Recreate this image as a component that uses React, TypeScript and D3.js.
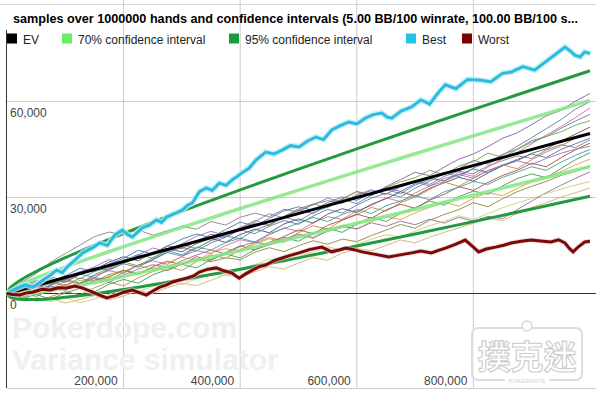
import React from 'react';
import * as d3 from 'd3';

const WIDTH = 600;
const HEIGHT = 394;

const titleText =
  'samples over 1000000 hands and confidence intervals (5.00 BB/100 winrate, 100.00 BB/100 s...';

// sample runs, one value every 25,000 hands, in thousands of BB
const sampleStep = 25000;
const samplesK: number[][] = [
  [0, 1.8, 3.5, 2.9, 5.1, 6.8, 8.0, 7.2, 9.5, 11.8, 12.5, 14.9, 14.0, 16.3, 18.5, 17.6, 20.2, 22.0, 21.3, 23.9, 26.1, 25.0, 27.8, 29.5, 31.9, 30.8, 33.4, 35.6, 37.9, 36.8, 39.5, 42.0, 43.6, 45.9, 48.5, 50.2, 52.8, 55.5, 57.2, 60.1, 62.5],
  [0, 3.5, 6.2, 9.8, 12.5, 15.1, 17.8, 19.2, 18.5, 19.9, 18.2, 19.6, 21.0, 20.1, 22.5, 21.4, 23.8, 25.1, 24.0, 26.3, 25.5, 27.9, 29.0, 28.2, 30.6, 32.1, 31.0, 33.5, 35.2, 34.1, 36.6, 38.2, 37.4, 39.9, 41.5, 43.0, 42.2, 44.8, 46.5, 45.6, 48.0],
  [0, 0.8, 2.4, 1.5, 3.9, 3.0, 5.6, 7.1, 6.3, 8.8, 10.2, 9.1, 11.6, 13.4, 12.5, 15.0, 16.8, 15.9, 18.3, 20.5, 19.4, 22.1, 24.0, 23.2, 25.8, 27.5, 29.9, 28.7, 31.4, 33.6, 35.0, 37.8, 36.6, 39.5, 42.1, 44.0, 46.8, 49.5, 52.1, 55.0, 58.0],
  [0, -1.2, 0.5, 2.1, 1.0, 3.3, 5.0, 4.1, 6.6, 8.9, 10.5, 12.8, 11.7, 14.2, 16.5, 18.0, 17.1, 19.8, 21.5, 23.9, 22.6, 25.3, 27.0, 29.4, 28.1, 30.7, 32.5, 31.2, 33.9, 35.6, 37.8, 36.5, 39.2, 41.0, 43.5, 45.1, 47.8, 49.0, 51.6, 53.9, 56.0],
  [0, 1.5, 0.6, 2.8, 4.5, 3.2, 5.9, 7.8, 9.9, 8.6, 11.2, 13.5, 15.3, 14.0, 16.7, 18.9, 20.2, 22.8, 21.5, 24.1, 26.4, 28.0, 26.9, 29.6, 31.8, 30.5, 33.1, 34.9, 36.2, 38.5, 37.1, 39.8, 41.2, 43.9, 42.5, 45.0, 47.3, 49.1, 50.5, 52.6, 54.0],
  [0, 0.9, 2.7, 4.6, 3.5, 6.0, 7.4, 9.8, 11.5, 10.2, 12.9, 14.1, 13.0, 15.6, 17.2, 16.0, 18.4, 20.1, 19.0, 21.7, 23.3, 22.0, 24.8, 26.5, 25.3, 27.9, 29.6, 31.8, 30.4, 32.9, 34.6, 36.3, 35.1, 37.7, 39.9, 41.5, 43.8, 45.2, 47.6, 49.8, 52.0],
  [0, -0.8, -2.1, -1.0, 0.6, -0.4, 1.8, 3.5, 2.4, 4.9, 6.8, 8.5, 7.2, 9.9, 12.1, 11.0, 13.6, 15.8, 17.5, 16.3, 19.0, 21.2, 20.1, 22.9, 24.6, 26.9, 25.7, 28.4, 30.1, 32.5, 34.8, 33.5, 36.1, 38.4, 40.2, 39.0, 41.8, 44.2, 46.1, 48.5, 50.0],
  [0, 2.2, 4.0, 3.1, 5.5, 7.9, 6.8, 9.2, 11.0, 13.5, 12.3, 14.8, 17.0, 18.6, 17.4, 20.0, 22.3, 21.1, 23.5, 25.8, 27.1, 26.0, 28.4, 30.2, 29.1, 31.5, 33.0, 31.9, 34.3, 36.0, 35.2, 37.1, 38.9, 37.8, 40.1, 41.9, 43.6, 42.5, 45.0, 46.8, 48.5],
  [0, 0.4, -0.9, 1.2, 2.8, 1.9, 4.2, 5.1, 7.3, 6.0, 8.4, 10.1, 9.0, 11.5, 10.4, 12.8, 14.9, 13.6, 16.0, 17.8, 19.9, 18.7, 21.3, 23.0, 24.8, 23.5, 26.1, 27.9, 26.6, 29.2, 31.0, 33.4, 32.2, 34.7, 36.9, 38.5, 40.7, 39.6, 42.4, 44.9, 47.0],
  [0, 1.1, 3.0, 5.2, 4.0, 6.5, 8.3, 10.6, 9.4, 12.0, 14.2, 13.1, 15.5, 17.9, 19.4, 18.2, 20.7, 22.5, 24.9, 23.6, 26.0, 27.7, 29.8, 28.5, 30.9, 32.4, 31.1, 33.2, 34.8, 33.6, 35.9, 37.2, 36.0, 38.4, 39.9, 41.5, 40.3, 42.2, 43.8, 45.1, 46.0],
  [0, -1.5, -0.3, -1.8, 0.2, 1.6, 0.5, 2.9, 4.4, 3.2, 5.8, 7.5, 9.1, 8.0, 10.6, 12.4, 11.1, 13.7, 15.2, 17.5, 16.3, 18.8, 20.4, 19.1, 21.7, 23.8, 22.5, 25.0, 26.8, 28.9, 27.6, 30.3, 32.0, 31.0, 33.6, 35.9, 37.4, 36.2, 39.0, 41.8, 44.0],
  [0, 1.3, 2.0, 0.8, 2.6, 4.1, 3.0, 5.4, 6.9, 8.8, 7.5, 9.6, 11.4, 10.3, 12.7, 14.0, 13.2, 15.4, 17.1, 16.0, 18.3, 17.2, 19.6, 21.3, 20.1, 22.5, 24.0, 23.1, 25.2, 26.9, 28.5, 27.3, 29.8, 31.5, 30.6, 32.8, 34.9, 36.4, 38.1, 40.2, 42.0],
  [0, 0.6, 1.9, 3.6, 2.5, 4.8, 3.7, 5.9, 7.2, 6.1, 8.0, 7.1, 9.3, 10.8, 9.9, 11.2, 10.5, 12.9, 14.3, 13.1, 14.9, 16.5, 15.4, 17.0, 16.2, 18.1, 19.8, 21.6, 20.4, 22.9, 24.7, 26.2, 28.4, 27.1, 29.6, 31.8, 33.5, 35.0, 36.9, 38.2, 40.0],
  [0, -0.5, 0.9, 2.4, 1.1, 3.0, 4.7, 3.5, 5.8, 7.6, 9.0, 8.1, 10.2, 12.0, 13.6, 12.4, 14.7, 16.1, 15.2, 17.0, 18.6, 17.5, 19.4, 21.0, 20.2, 22.1, 21.0, 22.6, 21.5, 23.2, 22.0, 23.8, 22.6, 24.1, 23.4, 26.2, 28.9, 31.5, 33.8, 36.0, 38.0],
  [0, -1.0, -2.4, -1.5, -3.0, -1.9, -0.6, -2.0, -0.8, 0.9, 0.1, 1.8, 3.2, 2.5, 4.1, 5.9, 5.0, 6.8, 8.4, 7.6, 9.5, 11.2, 10.4, 12.6, 14.1, 13.3, 15.0, 16.7, 15.8, 17.6, 19.1, 20.5, 21.9, 23.6, 22.8, 25.0, 26.9, 28.4, 30.1, 31.5, 33.0],
  [0, 0.3, -1.1, -2.6, -1.2, -2.9, -1.7, -0.2, 1.4, 0.5, 2.2, 3.9, 2.8, 4.6, 6.3, 5.5, 7.4, 9.0, 10.8, 9.7, 11.5, 13.0, 14.6, 13.5, 15.3, 17.0, 18.4, 17.6, 19.5, 21.2, 22.6, 24.3, 23.1, 25.0, 26.8, 28.3, 29.7, 31.2, 32.6, 33.9, 35.0],
  [0, 1.6, 0.7, 2.5, 4.3, 6.1, 5.0, 7.6, 9.3, 8.2, 10.7, 12.9, 14.4, 13.3, 15.8, 17.6, 19.9, 18.7, 21.0, 22.8, 21.6, 24.2, 26.3, 25.1, 27.6, 29.8, 31.3, 30.2, 32.9, 35.1, 37.4, 39.0, 41.6, 40.4, 43.2, 46.0, 48.7, 51.5, 54.3, 57.6, 60.0],
  [0, 2.0, 1.2, 3.4, 5.7, 4.6, 6.9, 8.1, 10.4, 12.2, 11.0, 13.4, 12.1, 14.5, 13.6, 15.9, 17.3, 16.1, 18.7, 20.3, 22.0, 23.8, 22.5, 24.7, 26.2, 25.0, 27.4, 28.9, 30.6, 29.3, 31.8, 33.2, 35.0, 34.1, 36.3, 37.9, 39.6, 38.5, 41.0, 43.2, 45.0],
];
const sampleColors = [
  '#8e5aa8', '#8a7f86', '#d36c9c', '#5b7fbf', '#7aa23a', '#555555',
  '#c08a4a', '#4a78a8', '#a8503c', '#9b6fc0', '#3f9a5a', '#e0a040',
  '#8d8a3a', '#9a6a9a', '#d2b27a', '#c8d27a', '#6a7a9a', '#3aa0a0',
];

// confidence intervals (BB)
const ciHands = [0, 5000, 10000, 25000, 50000, 100000, 200000, 300000, 400000, 500000, 600000, 700000, 800000, 900000, 1000000];
const ci70Upper = [0, 983, 1536, 2888, 4817, 8276, 14633, 20674, 26552, 32326, 38025, 43668, 49266, 54828, 60360];
const ci70Lower = [0, -483, -536, -388, 183, 1724, 5367, 9326, 13448, 17674, 21975, 26332, 30734, 35172, 39640];
const ci95Upper = [0, 1636, 2460, 4349, 6883, 11198, 18765, 25735, 32397, 38859, 45182, 51399, 57531, 63594, 69600];
const ci95Lower = [0, -1136, -1460, -1849, -1883, -1198, 1235, 4265, 7603, 11141, 14818, 18601, 22469, 26406, 30400];

const evHands = [0, 1000000];
const evValues = [0, 50000];

// best / worst run, hands in thousands, value in BB
const bestHandsK = [0, 15, 31, 45, 62, 75, 85, 95, 103, 115, 130, 145, 159, 172, 185, 198, 207, 215, 232, 245, 256, 265, 274, 288, 301, 310, 318, 330, 342, 352, 364, 376, 386, 395, 403, 415, 427, 436, 444, 458, 472, 486, 501, 515, 530, 543, 557, 570, 586, 600, 615, 628, 643, 652, 660, 676, 694, 710, 725, 740, 752, 770, 790, 809, 830, 850, 865, 885, 905, 923, 940, 957, 966, 974, 983, 991, 1000];
const bestValues = [0, 1500, 2700, 2000, 4200, 5800, 7300, 6500, 8300, 10200, 12700, 14100, 15800, 15000, 18300, 19800, 18400, 17700, 20500, 21400, 23000, 22200, 23900, 25000, 26100, 27600, 28300, 31800, 33000, 32200, 34500, 33800, 35500, 36600, 37700, 39100, 41700, 43000, 44200, 43600, 44800, 46200, 45800, 47600, 48900, 48100, 51100, 52300, 53600, 53000, 54800, 55900, 56400, 55100, 54800, 57000, 58300, 60500, 59200, 62800, 65200, 64000, 66900, 66700, 66200, 68800, 69200, 70900, 69800, 72300, 74600, 77000, 75800, 74500, 73900, 75500, 75000];
const worstHandsK = [0, 10, 22, 33, 44, 60, 74, 88, 103, 116, 130, 145, 159, 171, 180, 188, 200, 215, 228, 239, 250, 262, 273, 284, 296, 308, 320, 330, 345, 359, 372, 386, 398, 410, 421, 433, 444, 458, 472, 486, 501, 520, 540, 557, 570, 581, 595, 609, 630, 655, 672, 694, 710, 728, 740, 752, 770, 786, 798, 809, 822, 838, 852, 865, 882, 899, 915, 933, 946, 957, 965, 971, 980, 991, 1000];
const worstValues = [0, -300, -500, 200, 400, 1300, 1100, 1800, 1700, 2300, 1700, 600, -500, -1400, -900, -500, 400, 1100, 200, -500, 800, 2000, 2600, 3600, 4200, 4800, 5500, 6700, 7600, 8000, 7100, 6400, 4800, 6200, 7300, 8400, 8900, 10300, 11100, 11900, 12700, 13800, 14500, 13000, 13600, 14200, 13700, 13000, 12300, 11400, 12000, 12700, 13300, 12700, 13500, 14200, 15400, 16700, 14800, 13000, 13900, 14500, 15100, 15800, 16300, 16700, 16400, 16100, 16800, 15800, 14000, 13000, 14600, 16100, 16300];

const xTicks = [200000, 400000, 600000, 800000];
const yTicks = [0, 30000, 60000];

const legendItems = [
  { label: 'EV', color: '#000000', x: 7 },
  { label: '70% confidence interval', color: '#66ee66', x: 62 },
  { label: '95% confidence interval', color: '#1a9a3e', x: 229 },
  { label: 'Best', color: '#22c4e8', x: 406 },
  { label: 'Worst', color: '#7d0000', x: 462 },
];

const FONT = '"Liberation Sans", Arial, sans-serif';

export default function App() {
  const x = d3.scaleLinear().domain([0, 1000000]).range([7, 590]);
  const y = d3.scaleLinear().domain([0, 30000]).range([293.5, 197.5]);
  const fmt = d3.format(',');

  const line = d3
    .line<[number, number]>()
    .x((d) => x(d[0]))
    .y((d) => y(d[1]));
  const smooth = d3
    .line<[number, number]>()
    .x((d) => x(d[0]))
    .y((d) => y(d[1]))
    .curve(d3.curveMonotoneX);

  const zip = (hs: number[], vs: number[], hScale = 1): [number, number][] =>
    hs.map((h, i) => [h * hScale, vs[i]]);

  return (
    <svg
      width={WIDTH}
      height={HEIGHT}
      style={{ position: 'absolute', left: 0, top: 0, background: '#fff' }}
      fontFamily={FONT}
    >
      {/* grid */}
      <line x1={0} x2={596} y1={4.5} y2={4.5} stroke="#d8d8d8" />
      {xTicks.map((t) => (
        <line key={t} x1={x(t)} x2={x(t)} y1={0} y2={388} stroke="#cccccc" />
      ))}
      {yTicks.slice(1).map((t) => (
        <line key={t} x1={7} x2={596} y1={y(t)} y2={y(t)} stroke="#cccccc" />
      ))}
      <line x1={7} x2={596} y1={388.5} y2={388.5} stroke="#cccccc" />

      {/* watermark */}
      <g fill="#f0f0f0" fontWeight="bold" fontSize={30}>
        <text x={12} y={338}>Pokerdope.com</text>
        <text x={12} y={370}>Variance simulator</text>
      </g>

      <line x1={7} x2={596} y1={y(0)} y2={y(0)} stroke="#333" />
      <line x1={6.5} x2={6.5} y1={30} y2={388} stroke="#333" />

      {/* sample runs */}
      {samplesK.map((s, i) => (
        <path
          key={i}
          d={line(s.map((v, j) => [j * sampleStep, v * 1000]) as [number, number][]) || ''}
          fill="none"
          stroke={sampleColors[i % sampleColors.length]}
          strokeWidth={1}
          opacity={0.9}
        />
      ))}

      {/* confidence intervals */}
      {[ci70Upper, ci70Lower].map((v, i) => (
        <path key={'c70' + i} d={smooth(zip(ciHands, v)) || ''} fill="none" stroke="#84e684" strokeWidth={3.5} opacity={0.85} />
      ))}
      {[ci95Upper, ci95Lower].map((v, i) => (
        <path key={'c95' + i} d={smooth(zip(ciHands, v)) || ''} fill="none" stroke="#239a40" strokeWidth={3} />
      ))}
      <path d={line(zip(evHands, evValues)) || ''} fill="none" stroke="#000" strokeWidth={3} />

      {/* best / worst */}
      <path d={line(zip(bestHandsK, bestValues, 1000)) || ''} fill="none" stroke="#bfeef8" strokeWidth={6} opacity={0.8} />
      <path d={line(zip(bestHandsK, bestValues, 1000)) || ''} fill="none" stroke="#2bbbdc" strokeWidth={3} />
      <path d={line(zip(worstHandsK, worstValues, 1000)) || ''} fill="none" stroke="#e8c8c0" strokeWidth={5} opacity={0.6} />
      <path d={line(zip(worstHandsK, worstValues, 1000)) || ''} fill="none" stroke="#7a0a0a" strokeWidth={3} />

      {/* axis labels */}
      <g fontSize={12} fill="#444">
        {yTicks.map((t) => (
          <text key={t} x={10} y={y(t) + 15}>
            {fmt(t)}
          </text>
        ))}
        {xTicks.map((t) => (
          <text key={t} x={x(t) - 6} y={385} textAnchor="end">
            {fmt(t)}
          </text>
        ))}
      </g>

      {/* title */}
      <text x={13} y={23} fontSize={12} fontWeight="bold" fill="#000" textLength={565} lengthAdjust="spacingAndGlyphs">
        {titleText}
      </text>

      {/* legend */}
      {legendItems.map((d) => (
        <g key={d.label}>
          <rect x={d.x} y={33.5} width={10} height={10} fill={d.color} />
          <text x={d.x + 16} y={43.5} fontSize={12} fill="#222">
            {d.label}
          </text>
        </g>
      ))}

      {/* corner logo */}
      <g>
        <rect x={472} y={328} width={110} height={52} rx={6} fill="#fff" fillOpacity={0.7} stroke="#dddddd" strokeWidth={2} />
        <circle cx={527} cy={326} r={5} fill="#fff" stroke="#d8d8d8" strokeWidth={1.5} />
        <text
          x={527}
          y={355}
          textAnchor="middle"
          dominantBaseline="central"
          fontSize={33}
          fontWeight="bold"
          fontFamily='"Noto Sans CJK TC", "Noto Sans CJK SC", sans-serif'
          fill="#ffffff"
          stroke="#cfcfcf"
          strokeWidth={1.2}
        >
          撲克迷
        </text>
        <rect x={505} y={376} width={44} height={8} fill="#fff" />
        <text x={527} y={383} textAnchor="middle" fontSize={6} fill="#d0d0d0">
          POKERMATE
        </text>
      </g>
    </svg>
  );
}
